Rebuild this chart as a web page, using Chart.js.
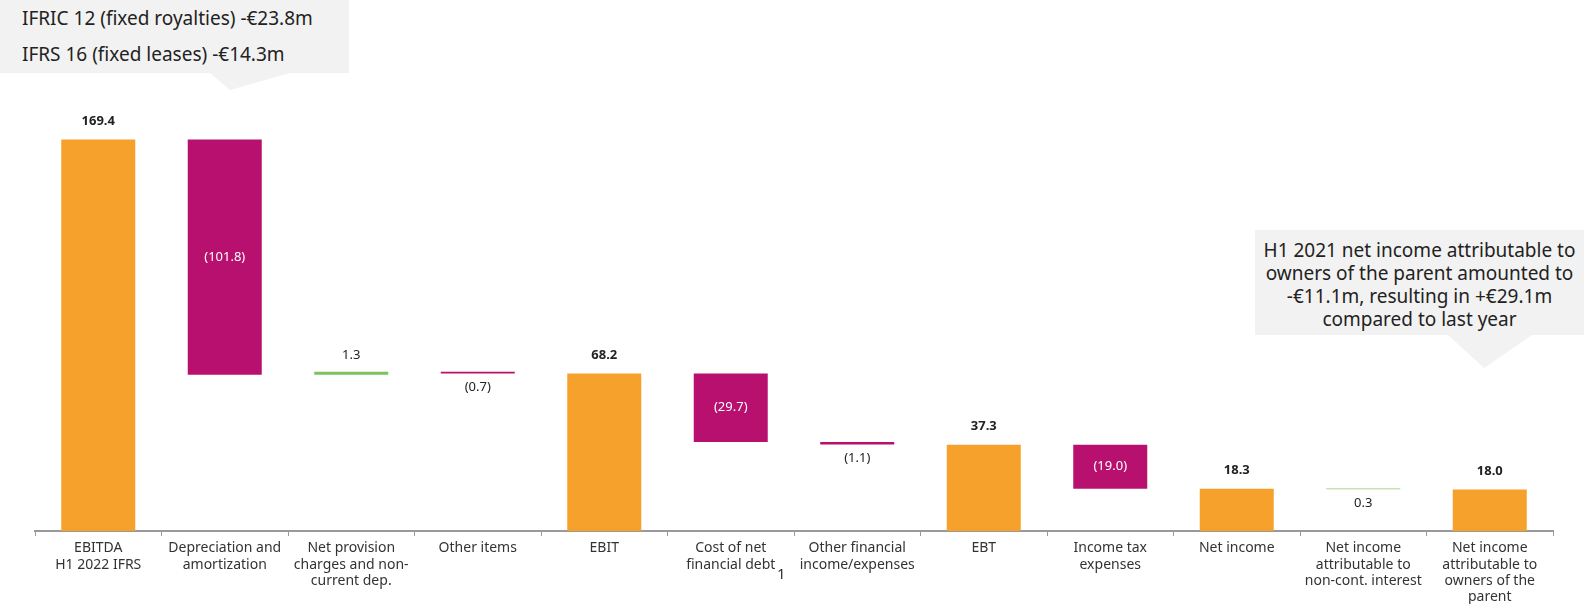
<!DOCTYPE html>
<html>
<head>
<meta charset="utf-8">
<script src="https://cdn.jsdelivr.net/npm/chart.js@4.4.1/dist/chart.umd.min.js"></script>
<style>
    body { margin: 0; background: #fff; }
    #wrap { position: relative; width: 1584px; height: 604px; font-family: "Noto Sans", sans-serif; color: #222; }
    #chart { position: absolute; left: 0; top: 0; }
    .box { position: absolute; background: #f2f2f2; font-size: 19px; }
    .tip { position: absolute; background: #f2f2f2; }
    #box1 { left: 0; top: 0; width: 327px; height: 73px; padding-left: 22px; line-height: 36px; }
    #tip1 { left: 210px; top: 73px; width: 80px; height: 17px; clip-path: polygon(0 0, 100% 0, 25% 100%); }
    #box2 { left: 1255px; top: 230px; width: 329px; height: 105px; padding-top: 9px; box-sizing: border-box; text-align: center; line-height: 23px; }
    #tip2 { left: 1448px; top: 335px; width: 84px; height: 33px; clip-path: polygon(0 0, 100% 0, 43% 100%); }
    #note { position: absolute; left: 777px; top: 563px; font-size: 15px; color: #333; }
</style>
</head>
<body>
<div id="wrap">
    <canvas id="chart" width="1584" height="604"></canvas>
    <div class="box" id="box1">IFRIC 12 (fixed royalties) -€23.8m<br>IFRS 16 (fixed leases) -€14.3m</div>
    <div class="tip" id="tip1"></div>
    <div class="box" id="box2">H1 2021 net income attributable to<br>owners of the parent amounted to<br>-€11.1m, resulting in +€29.1m<br>compared to last year</div>
    <div class="tip" id="tip2"></div>
    <div id="note">1</div>
</div>
<script>
const categories = [
    ["EBITDA", "H1 2022 IFRS"],
    ["Depreciation and", "amortization"],
    ["Net provision", "charges and non-", "current dep."],
    ["Other items"],
    ["EBIT"],
    ["Cost of net", "financial debt"],
    ["Other financial", "income/expenses"],
    ["EBT"],
    ["Income tax", "expenses"],
    ["Net income"],
    ["Net income", "attributable to", "non-cont. interest"],
    ["Net income", "attributable to", "owners of the", "parent"]
]
// "total" bars start at zero, "delta" bars float from the running total
const kinds = ["total", "delta", "delta", "delta", "total", "delta", "delta", "total", "delta", "total", "delta", "total"]
const values = [169.4, -101.8, 1.3, -0.7, 68.2, -29.7, -1.1, 37.3, -19.0, 18.3, -0.3, 18.0]
const valueLabels = ["169.4", "(101.8)", "1.3", "(0.7)", "68.2", "(29.7)", "(1.1)", "37.3", "(19.0)", "18.3", "0.3", "18.0"]
const labelPlaces = ["above", "inside", "above", "below", "above", "inside", "below", "above", "inside", "above", "below", "above"]
const barColors = ["#F5A12B", "#B8106F", "#7DC25B", "#B8106F", "#F5A12B", "#B8106F", "#B8106F", "#F5A12B", "#B8106F", "#F5A12B", "#C9E3B8", "#F5A12B"]

const buildRanges = () => {
    let running = 0
    return values.map((v, i) => {
        if (kinds[i] === "total") {
            running = v
            return [0, v]
        }
        const start = running
        running = running + v
        return [start, running]
    })
}

const barLabels = {
    id: "barLabels",
    afterDatasetsDraw(chart) {
        const ctx = chart.ctx
        const meta = chart.getDatasetMeta(0)
        ctx.save()
        ctx.textAlign = "center"
        ctx.textBaseline = "middle"
        meta.data.forEach((bar, i) => {
            const top = Math.min(bar.y, bar.base)
            const bottom = Math.max(bar.y, bar.base)
            const place = labelPlaces[i]
            let y = top - 18
            ctx.fillStyle = "#222"
            ctx.font = "13px 'Noto Sans'"
            if (place === "above" && kinds[i] === "total") {
                ctx.font = "bold 13px 'Noto Sans'"
            } else if (place === "above") {
                y = top - 16
            } else if (place === "below") {
                y = bottom + 14
            } else {
                y = (top + bottom) / 2
                ctx.fillStyle = "#fff"
            }
            ctx.fillText(valueLabels[i], bar.x, y)
        })
        ctx.restore()
    }
}

const context = document.getElementById("chart").getContext("2d")
new Chart(context, {
    type: "bar",
    data: {
        labels: categories,
        datasets: [{
            data: buildRanges(),
            backgroundColor: barColors,
            borderWidth: 0,
            barPercentage: 0.585,
            categoryPercentage: 1,
            minBarLength: 1.5
        }]
    },
    options: {
        responsive: false,
        animation: false,
        layout: { padding: { left: 35, right: 31, top: 20, bottom: 0 } },
        plugins: {
            legend: { display: false },
            tooltip: { enabled: false }
        },
        scales: {
            x: {
                afterFit: (scale) => { scale.height = 73 },
                grid: {
                    offset: true,
                    drawOnChartArea: false,
                    drawTicks: true,
                    tickLength: 5,
                    color: "#999"
                },
                border: { color: "#999", width: 2 },
                ticks: {
                    color: "#333",
                    padding: 4,
                    maxRotation: 0,
                    autoSkip: false,
                    font: { family: "'Noto Sans'", size: 14, lineHeight: 1.17 }
                }
            },
            y: {
                display: false,
                min: 0,
                max: 221.1
            }
        }
    },
    plugins: [barLabels]
})
</script>
</body>
</html>
